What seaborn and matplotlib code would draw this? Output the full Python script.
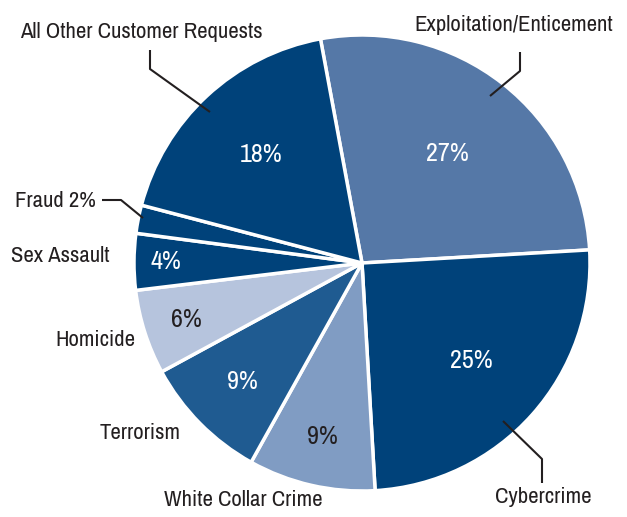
import numpy as np
import matplotlib
matplotlib.use("Agg")
import matplotlib.pyplot as plt
from matplotlib import font_manager
import seaborn as sns

# data
categories = ["Exploitation/Enticement", "Cybercrime", "White Collar Crime", "Terrorism",
              "Homicide", "Sex Assault", "Fraud", "All Other Customer Requests"]
shares = [27, 25, 9, 9, 6, 4, 2, 18]
pct_labels = ["27%", "25%", "9%", "9%", "6%", "4%", "", "18%"]

colors = ["#5578a7", "#00427a", "#809cc3", "#1f5b91", "#b6c4dd", "#00427a", "#00427a", "#00427a"]
pct_colors = ["white", "white", "#231f20", "white", "#231f20", "white", "white", "white"]
pct_dist = [0.61, 0.64, 0.78, 0.74, 0.81, 0.86, 0.9, 0.65]

sns.set_theme(style="white")

# look for a narrow font, else DejaVu condensed
fam, stretch = "DejaVu Sans", "condensed"
names = sorted(set(f.name for f in font_manager.fontManager.ttflist))
for n in names:
    if "Narrow" in n or "Condensed" in n:
        fam, stretch = n, "normal"
        break
plt.rcParams['font.family'] = [fam, 'DejaVu Sans']
plt.rcParams['font.stretch'] = stretch

W, H = 627, 517
fig = plt.figure(figsize=(W / 100, H / 100), dpi=100)
ax = fig.add_axes([0, 0, 1, 1])

cx, cy, R = 362, H - 263, 228
wedges, _ = ax.pie(shares, colors=colors, startangle=100.5, counterclock=False,
                   center=(cx, cy), radius=R, frame=True,
                   wedgeprops=dict(edgecolor="white", linewidth=2.5))
ax.set_xlim(0, W)
ax.set_ylim(0, H)
ax.set_aspect("equal")
ax.axis("off")

# pick font sizes so text widths match the reference
rend = fig.canvas.get_renderer()
def fit(s, target):
    t = ax.text(0, 0, s, fontsize=20)
    w = t.get_window_extent(rend).width
    t.remove()
    return 20 * target / w

fs = fit("All Other Customer Requests", 242)
pfs = fit("18%", 43)

# percent labels inside the slices
for w, lab, c, d in zip(wedges, pct_labels, pct_colors, pct_dist):
    th = np.deg2rad((w.theta1 + w.theta2) / 2)
    ax.text(cx + d * R * np.cos(th), cy + d * R * np.sin(th), lab,
            color=c, fontsize=pfs, ha="center", va="center")

txt = "#231f20"

def P(x, y):
    return x, H - y

# outside labels
ax.text(*P(141, 32), "All Other Customer Requests", ha="center", va="center", fontsize=fs, color=txt)
ax.text(*P(514, 25), "Exploitation/Enticement", ha="center", va="center", fontsize=fs, color=txt)
ax.text(*P(55, 201), "Fraud 2%", ha="center", va="center", fontsize=fs, color=txt)
ax.text(*P(60, 256), "Sex Assault", ha="center", va="center", fontsize=fs, color=txt)
ax.text(*P(95, 340), "Homicide", ha="center", va="center", fontsize=fs, color=txt)
ax.text(*P(140, 433), "Terrorism", ha="center", va="center", fontsize=fs, color=txt)
ax.text(*P(243, 500), "White Collar Crime", ha="center", va="center", fontsize=fs, color=txt)
ax.text(*P(543, 497), "Cybercrime", ha="center", va="center", fontsize=fs, color=txt)

# leader lines
leaders = [
    [(150, 50), (150, 69), (210, 112)],
    [(520, 52), (520, 71), (490, 96)],
    [(102, 200), (121, 200), (143, 218)],
    [(503, 421), (542, 459), (542, 483)],
]
for pts in leaders:
    xs = [p[0] for p in pts]
    ys = [H - p[1] for p in pts]
    ax.plot(xs, ys, color=txt, lw=1.5, solid_capstyle="butt")

fig.savefig("out.png", dpi=100)
